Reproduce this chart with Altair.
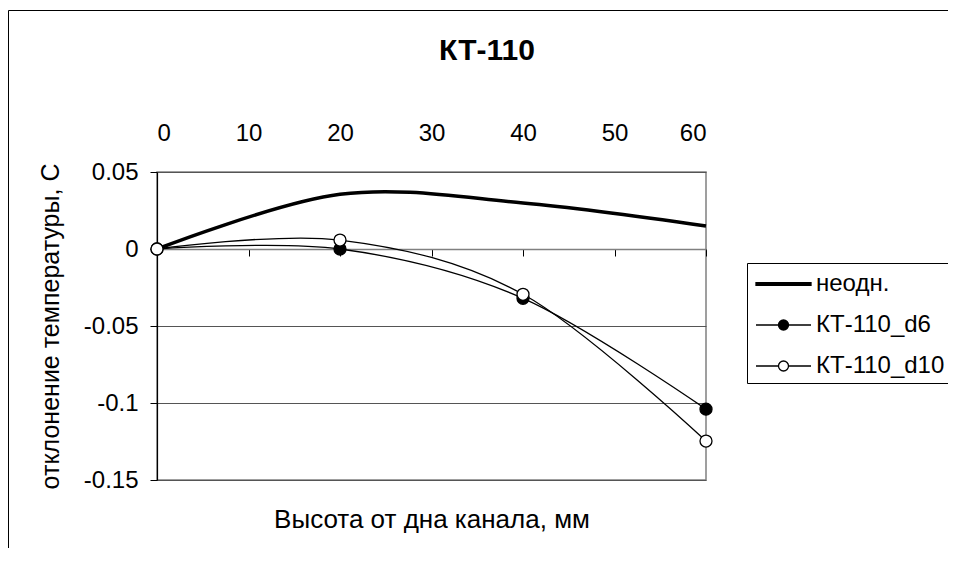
import altair as alt
import pandas as pd

# ---- data ----
x_pos = [0, 20, 40, 60]
neodn = [0.0, 0.0355, 0.0299, 0.0149]
kt_d6 = [0.0, 0.0, -0.032, -0.104]
kt_d10 = [0.0, 0.0058, -0.0294, -0.1247]
series_names = ["неодн.", "КТ-110_d6", "КТ-110_d10"]
x_ticks = [0, 10, 20, 30, 40, 50, 60]
y_ticks = [0.05, 0.0, -0.05, -0.1, -0.15]

FONT = "Liberation Sans"

df_neodn = pd.DataFrame({"x": x_pos, "y": neodn, "s": series_names[0]})
df_thin = pd.concat([
    pd.DataFrame({"x": x_pos, "y": kt_d6, "s": series_names[1]}),
    pd.DataFrame({"x": x_pos, "y": kt_d10, "s": series_names[2]}),
])
df_d6 = df_thin[df_thin["s"] == series_names[1]]
df_d10 = df_thin[df_thin["s"] == series_names[2]]

xscale = alt.Scale(domain=[0, 60], nice=False, zero=False)
yscale = alt.Scale(domain=[-0.15, 0.05], nice=False, zero=False)

y_axis = alt.Axis(values=y_ticks, labelExpr="'' + datum.value", title="отклонение температуры, С",
                  labelFontSize=24, labelFont=FONT, labelColor="black", labelPadding=12,
                  tickSize=7, tickColor="black", domainColor="black", domainWidth=1.2,
                  titleFontSize=25, titleFont=FONT, titleFontWeight="normal", titleColor="black",
                  titlePadding=20, grid=True, gridColor="#555555", gridWidth=1)

top_axis = alt.Axis(orient="top", values=x_ticks, labelExpr="'' + datum.value", title=None,
                    domain=False, ticks=False, tickSize=0, grid=False,
                    labelFontSize=24, labelFont=FONT, labelColor="black", labelPadding=27)

zero_axis = alt.Axis(orient="bottom", offset=-231, values=x_ticks, labels=False, grid=False,
                     domainColor="#808080", domainWidth=1.5, tickColor="black", tickSize=7,
                     title="Высота от дна канала, мм", titleFontSize=26, titleFont=FONT,
                     titleFontWeight="normal", titleColor="black", titlePadding=250)

PAD = {"left": 149, "top": 164, "right": 242, "bottom": 68}
W, H = 549, 308

border_df = pd.DataFrame({"a": [0]})
border_top = alt.Chart(border_df).mark_rule(color="black", strokeWidth=1).encode(
    x=alt.value(-148.5), x2=alt.value(W + PAD["right"]), y=alt.value(-161.5))
border_left = alt.Chart(border_df).mark_rule(color="black", strokeWidth=1).encode(
    x=alt.value(-148.5), y=alt.value(-161.5), y2=alt.value(H + PAD["bottom"]))

thick = alt.Chart(df_neodn).mark_line(
    interpolate="cardinal", color="black", strokeWidth=3.5
).encode(
    x=alt.X("x:Q", scale=xscale, axis=top_axis),
    y=alt.Y("y:Q", scale=yscale, axis=y_axis),
)

thin = alt.Chart(df_thin).mark_line(
    interpolate="cardinal", color="black", strokeWidth=1.3
).encode(
    x=alt.X("x:Q", scale=xscale, axis=zero_axis),
    y=alt.Y("y:Q", scale=yscale, axis=y_axis),
    detail="s:N",
)

pts_d6 = alt.Chart(df_d6).mark_point(
    shape="circle", filled=True, fill="black", stroke="black", strokeWidth=1.3, size=144, opacity=1
).encode(
    x=alt.X("x:Q", scale=xscale, axis=None),
    y=alt.Y("y:Q", scale=yscale, axis=y_axis),
)

pts_d10 = alt.Chart(df_d10).mark_point(
    shape="circle", filled=True, fill="white", stroke="black", strokeWidth=1.3, size=144, opacity=1
).encode(
    x=alt.X("x:Q", scale=xscale, axis=None),
    y=alt.Y("y:Q", scale=yscale, axis=y_axis),
)

# legend symbols: custom paths (line / line with circle)
sym_thick = "M-0.8,-0.09H2.867V0.09H-0.8Z"
sym_marker = ("M-0.8,0H0.7M1.367,0H2.867"
              "M0.7,0A0.333,0.333 0 1,0 1.367,0A0.333,0.333 0 1,0 0.7,0Z")

legend = alt.Legend(orient="none", legendX=590, legendY=91, title=None,
                    strokeColor="black", fillColor="white", padding=5,
                    symbolSize=900, symbolOffset=0, labelOffset=32, rowPadding=13,
                    labelFontSize=24, labelFont=FONT, labelColor="black",
                    symbolStrokeColor="black", symbolStrokeWidth=1.3, symbolOpacity=1,
                    labelLimit=300)

leg = alt.Chart(pd.DataFrame({"s": series_names})).transform_filter("false").mark_point(
    filled=True, strokeWidth=1.3
).encode(
    shape=alt.Shape("s:N", scale=alt.Scale(domain=series_names, range=[sym_thick, sym_marker, sym_marker]),
                    legend=legend),
    fill=alt.Fill("s:N", scale=alt.Scale(domain=series_names, range=["black", "black", "white"]),
                  legend=legend),
    stroke=alt.Stroke("s:N", scale=alt.Scale(domain=series_names, range=["black", "black", "black"]),
                      legend=legend),
)

chart = alt.layer(border_top, border_left, thick, thin, pts_d6, pts_d10, leg).resolve_axis(
    x="independent"
).properties(
    width=W, height=H,
    autosize=alt.AutoSizeParams(type="none"),
    padding=PAD,
    title=alt.TitleParams("КТ-110", fontSize=30, font=FONT, fontWeight="bold", color="black",
                          anchor="middle", frame="group", dx=55.5, offset=0, dy=56),
    background="white",
).configure_view(stroke="#808080", strokeWidth=1.5)

chart.save("out.html", embed_options={"renderer": "svg", "actions": False})
